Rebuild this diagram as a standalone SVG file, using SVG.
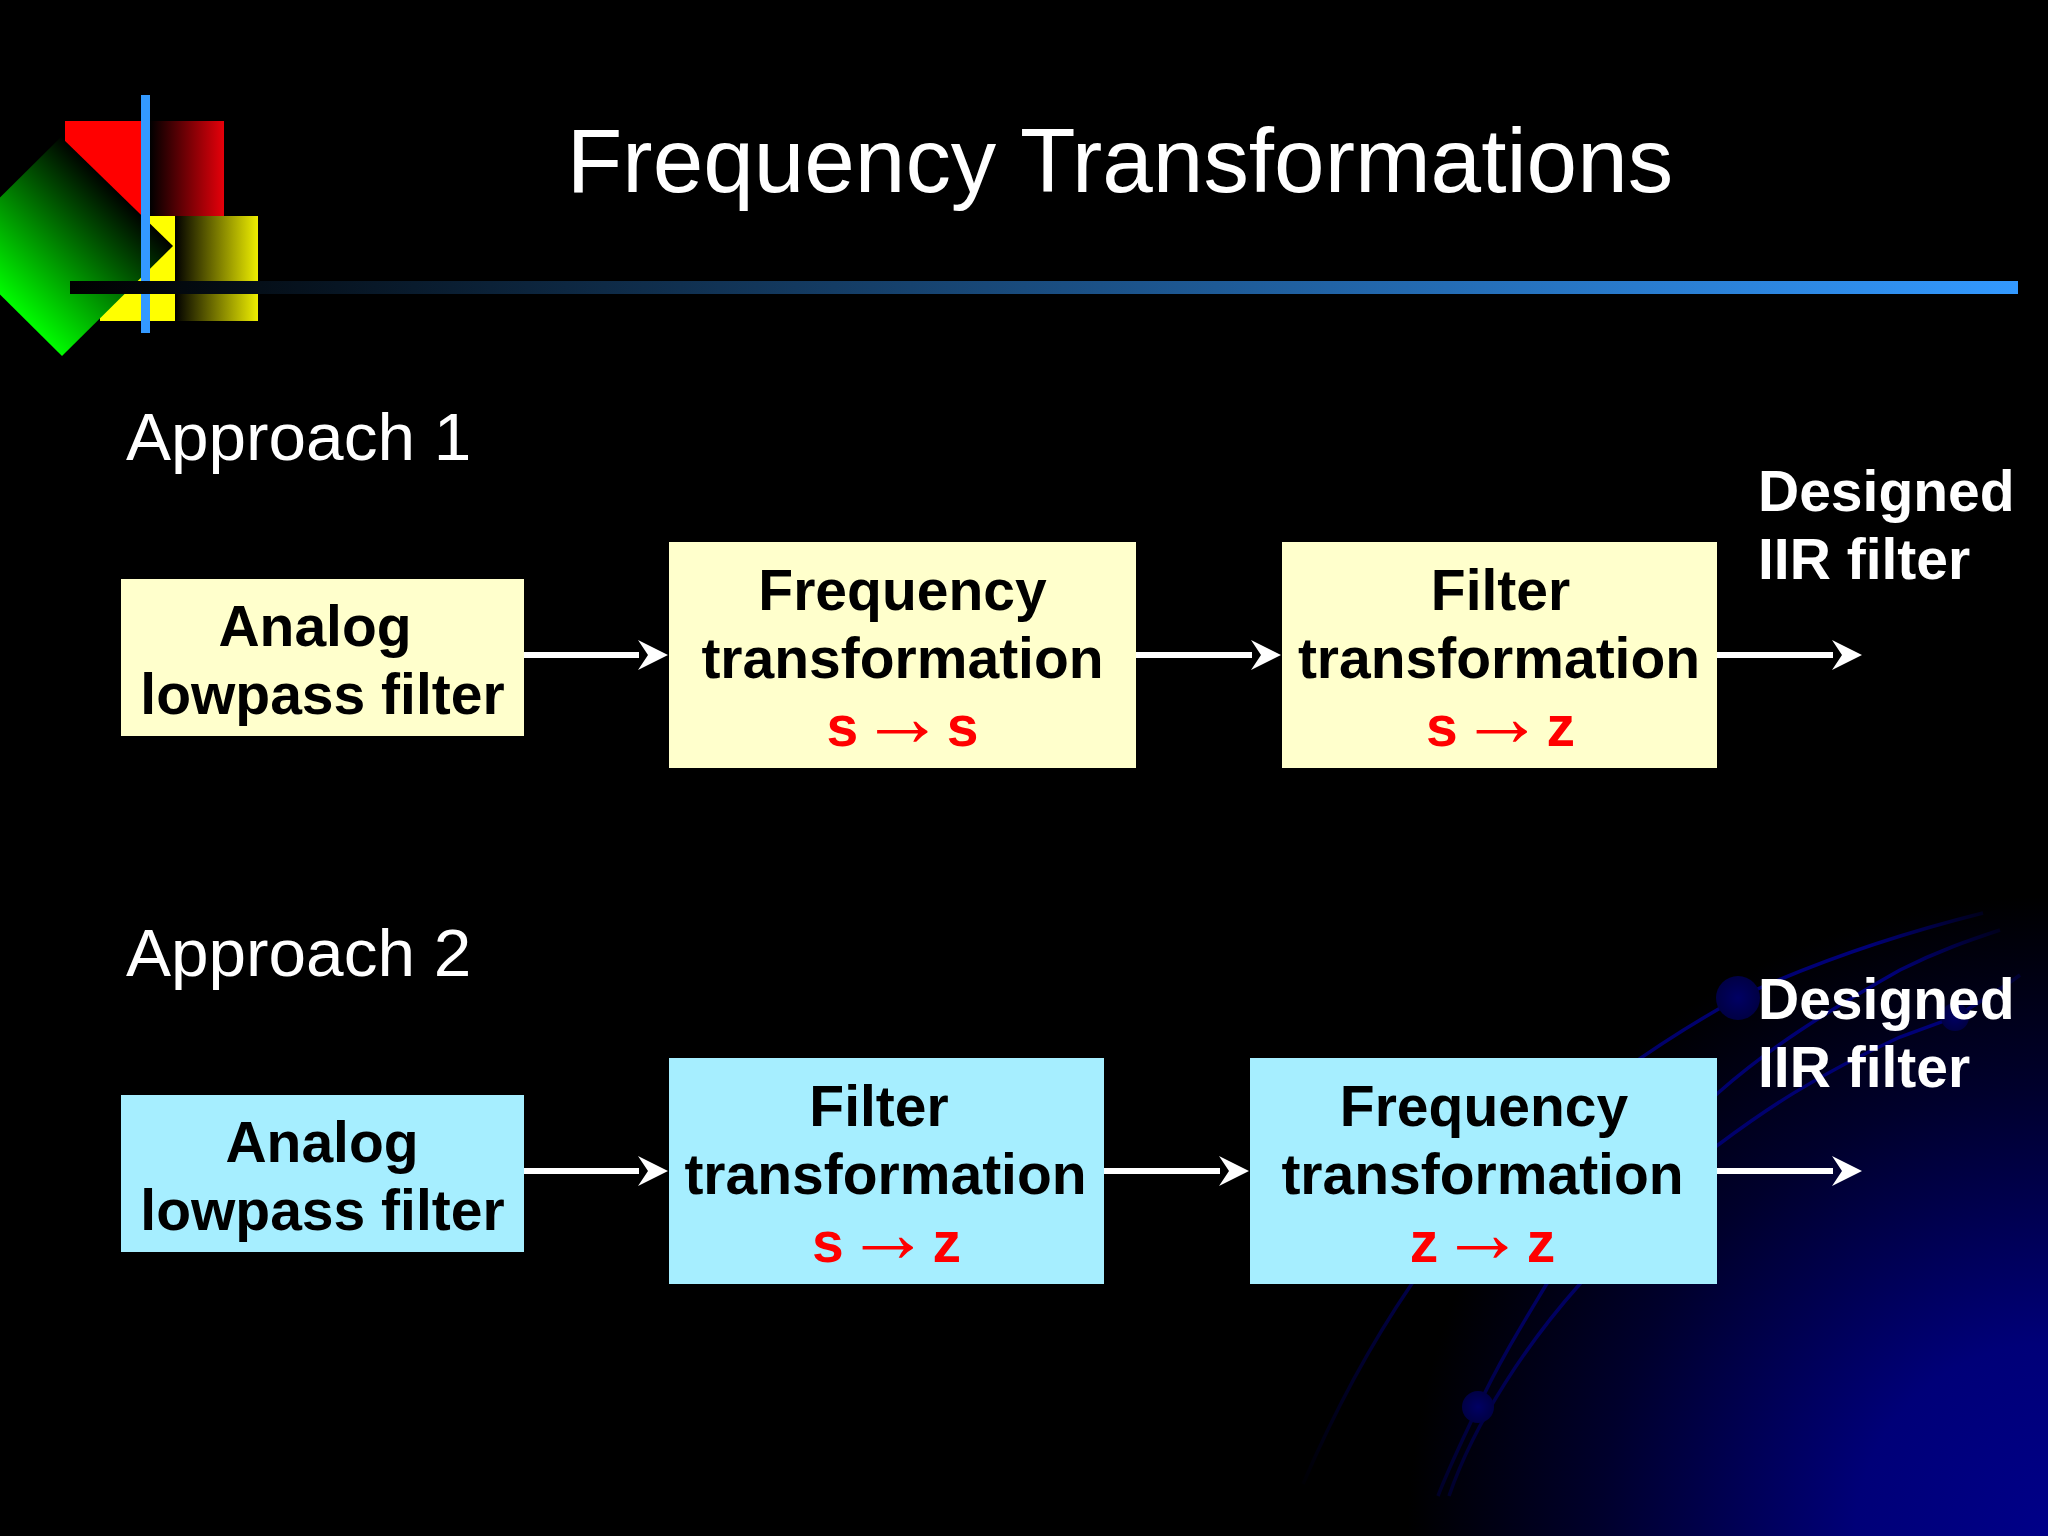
<svg xmlns="http://www.w3.org/2000/svg" width="2048" height="1536" viewBox="0 0 2048 1536">
<style>
.b{font:bold 57px "Liberation Sans",Arial,sans-serif;text-anchor:middle;fill:#000}
.r{font:bold 57px "Liberation Sans",Arial,sans-serif;text-anchor:middle;fill:#f00;word-spacing:-14px}
.ar{font:normal 85px "Liberation Serif","DejaVu Serif",serif}
.w{font:bold 57px "Liberation Sans",Arial,sans-serif;fill:#fff}
.h{font:67.500px "Liberation Sans",Arial,sans-serif;fill:#fff}
.y{fill:#ffc}
.c{fill:#a6eeff}
.l{stroke:#fff;stroke-width:6;fill:none;marker-end:url(#ah)}
.d{fill:none;stroke:url(#sw);stroke-width:3.500}
.ball{fill:url(#bl)}
</style>
<defs>
<radialGradient id="bg" gradientUnits="userSpaceOnUse" cx="2048" cy="1536" r="640">
<stop offset="0" stop-color="#000088"/><stop offset="0.3" stop-color="#000078"/><stop offset="0.7" stop-color="#00002c"/><stop offset="1" stop-color="#000"/>
</radialGradient>
<linearGradient id="sw" gradientUnits="userSpaceOnUse" x1="1300" y1="1500" x2="2010" y2="900">
<stop offset="0" stop-color="#000070" stop-opacity="0"/><stop offset="0.3" stop-color="#000070" stop-opacity=".8"/><stop offset="0.85" stop-color="#000078"/><stop offset="1" stop-color="#000078" stop-opacity="0"/>
</linearGradient>
<radialGradient id="bl"><stop offset="0" stop-color="#000064"/><stop offset="1" stop-color="#000044"/></radialGradient>
<linearGradient id="gr"><stop offset="0" stop-color="#000"/><stop offset="1" stop-color="#e6000a"/></linearGradient>
<linearGradient id="gy"><stop offset="0" stop-color="#000"/><stop offset="1" stop-color="#eeee00"/></linearGradient>
<linearGradient id="gb" gradientUnits="userSpaceOnUse" x1="70" y1="0" x2="2018" y2="0"><stop offset="0" stop-color="#000"/><stop offset="1" stop-color="#3399ff"/></linearGradient>
<linearGradient id="gg" gradientUnits="userSpaceOnUse" x1="5" y1="302" x2="117" y2="190"><stop offset="0" stop-color="#00ff00"/><stop offset="1" stop-color="#000"/></linearGradient>
<marker id="ah" markerUnits="userSpaceOnUse" markerWidth="32" markerHeight="32" refX="1" refY="16" orient="auto" overflow="visible">
<path d="M0,1 L30,16 L0,31 L10,16Z" fill="#fff"/>
</marker>
</defs>
<rect width="2048" height="1536" fill="#000"/>
<rect width="2048" height="1536" fill="url(#bg)"/>
<g id="swirl">
<path class="d" d="M1303,1484 C1335,1410 1370,1345 1411,1285 C1480,1180 1590,1080 1738,998 C1783,977 1867,942 1983,913"/>
<path class="d" d="M1438,1496 C1450,1465 1465,1435 1478,1407 C1500,1360 1525,1320 1546,1285 C1610,1190 1680,1130 1718,1093 C1767,1050 1817,1017 1900,970 C1940,950 1970,940 2000,930"/>
<path class="d" d="M1449,1496 C1475,1420 1530,1340 1579,1285 C1640,1215 1680,1175 1718,1145 C1765,1110 1813,1077 1900,1037 L1955,1017 C1975,1005 2000,990 2020,975"/>
<circle class="ball" cx="1738" cy="998" r="22"/>
<circle class="ball" cx="1478" cy="1407" r="16"/>
<circle class="ball" cx="1955" cy="1017" r="14"/>
</g>
<g id="logo">
<rect x="65" y="121" width="76" height="95" fill="#f00"/>
<rect x="150" y="121" width="74" height="95" fill="url(#gr)"/>
<rect x="100" y="216" width="75" height="105" fill="#ff0"/>
<rect x="175" y="216" width="83" height="105" fill="url(#gy)"/>
<polygon points="61,137 173,246 62,356 -49,246" fill="url(#gg)"/>
<rect x="141" y="95" width="9" height="238" fill="#3399ff"/>
<rect x="70" y="281" width="1948" height="13" fill="url(#gb)"/>
</g>
<g id="title"><text x="1120" y="192" font-family="Liberation Sans, Arial, sans-serif" font-size="90.900" fill="#fff" text-anchor="middle">Frequency Transformations</text></g>
<g id="approach1"><text class="h" x="126" y="460">Approach 1</text></g>
<g id="approach2"><text class="h" x="126" y="976">Approach 2</text></g>
<g id="connectors">
<path class="l" d="M524,655H639"/>
<path class="l" d="M1136,655H1252"/>
<path class="l" d="M1717,655H1833"/>
<path class="l" d="M524,1171H639"/>
<path class="l" d="M1104,1171H1220"/>
<path class="l" d="M1717,1171H1833"/>
</g>
<g id="n1">
<rect class="y" x="121" y="579" width="403" height="157"/>
<text class="b" x="315" y="646">Analog</text>
<text class="b" x="322.500" y="714">lowpass filter</text>
</g>
<g id="n2">
<rect class="y" x="669" y="542" width="467" height="226"/>
<text class="b" x="902.500" y="610">Frequency</text>
<text class="b" x="902.500" y="678">transformation</text>
<text class="r" x="902.500" y="746">s <tspan class="ar">→</tspan> s</text>
</g>
<g id="n3">
<rect class="y" x="1282" y="542" width="435" height="226"/>
<text class="b" x="1500.500" y="610">Filter</text>
<text class="b" x="1499" y="678">transformation</text>
<text class="r" x="1500.500" y="746">s <tspan class="ar">→</tspan> z</text>
</g>
<g id="o1"><text class="w" x="1758" y="511">Designed</text><text class="w" x="1758" y="579">IIR filter</text></g>
<g id="n4">
<rect class="c" x="121" y="1095" width="403" height="157"/>
<text class="b" x="322" y="1162">Analog</text>
<text class="b" x="322.500" y="1230">lowpass filter</text>
</g>
<g id="n5">
<rect class="c" x="669" y="1058" width="435" height="226"/>
<text class="b" x="879" y="1126">Filter</text>
<text class="b" x="885.500" y="1194">transformation</text>
<text class="r" x="886.500" y="1262">s <tspan class="ar">→</tspan> z</text>
</g>
<g id="n6">
<rect class="c" x="1250" y="1058" width="467" height="226"/>
<text class="b" x="1484" y="1126">Frequency</text>
<text class="b" x="1482.500" y="1194">transformation</text>
<text class="r" x="1482.500" y="1262">z <tspan class="ar">→</tspan> z</text>
</g>
<g id="o2"><text class="w" x="1758" y="1019">Designed</text><text class="w" x="1758" y="1087">IIR filter</text></g>
</svg>
